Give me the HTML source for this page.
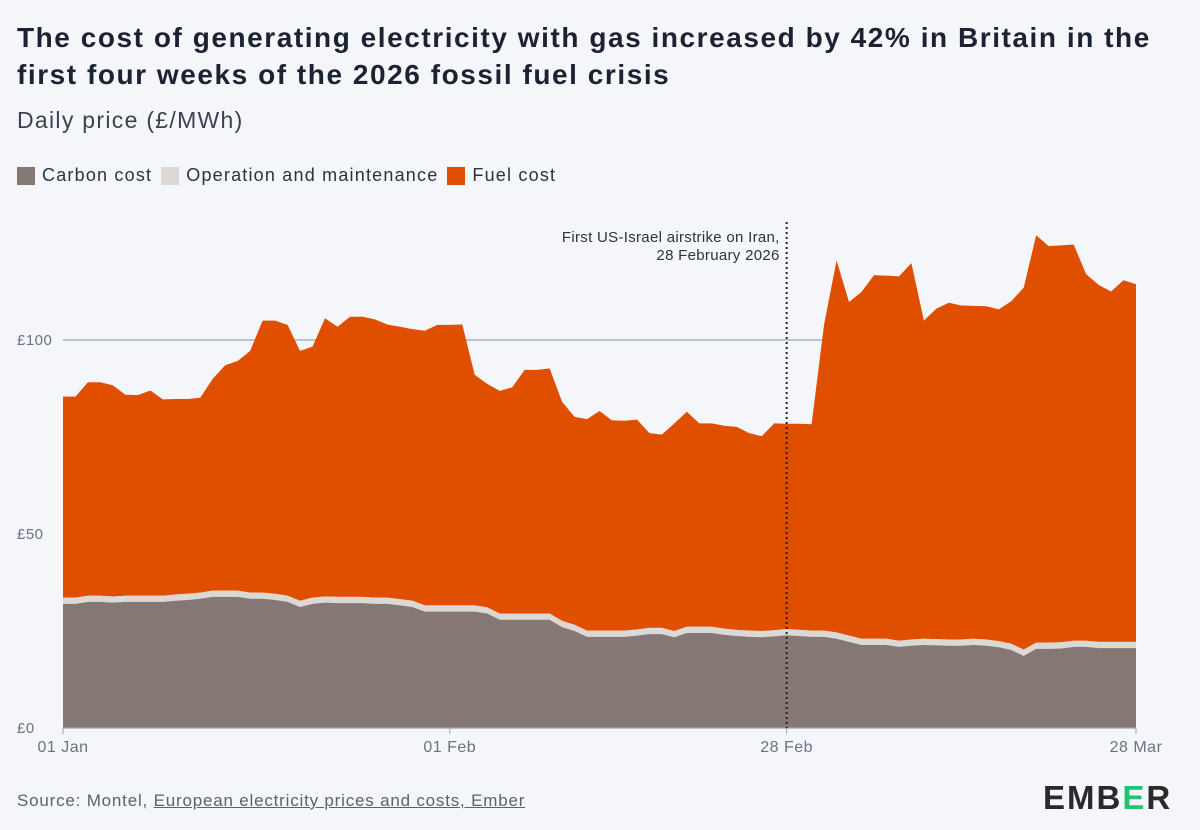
<!DOCTYPE html>
<html><head><meta charset="utf-8"><style>
html,body{margin:0;padding:0;background:#f5f6f9;}
body{width:1200px;height:830px;position:relative;overflow:hidden;font-family:"Liberation Sans",sans-serif;color:#1b2333;}
.t{position:absolute;margin:0;white-space:nowrap;}
</style></head><body>
<h1 class="t" style="left:17px;top:19px;font-size:28px;line-height:37px;font-weight:bold;color:#1b2333;letter-spacing:1.55px;">The cost of generating electricity with gas increased by 42% in Britain in the<br>first four weeks of the 2026 fossil fuel crisis</h1>
<div class="t" style="left:17px;top:107px;font-size:23px;color:#3b4250;letter-spacing:1.3px;">Daily price (£/MWh)</div>
<div class="t" style="left:17px;top:165px;font-size:18px;color:#2b3240;display:flex;align-items:center;letter-spacing:1.2px;">
 <span style="display:flex;align-items:center;margin-right:9px;"><span style="width:18px;height:18px;background:#857874;display:inline-block;margin-right:7px;"></span>Carbon cost</span>
 <span style="display:flex;align-items:center;margin-right:9px;"><span style="width:18px;height:18px;background:#dcd8d6;display:inline-block;margin-right:7px;"></span>Operation and maintenance</span>
 <span style="display:flex;align-items:center;"><span style="width:18px;height:18px;background:#e04e00;display:inline-block;margin-right:7px;"></span>Fuel cost</span>
</div>
<svg id="chart" width="1200" height="830" style="position:absolute;left:0;top:0;" xmlns="http://www.w3.org/2000/svg"></svg>
<div class="t" style="left:17px;top:791px;font-size:17px;color:#5a6170;letter-spacing:0.8px;">Source: Montel, <span style="text-decoration:underline;">European electricity prices and costs, Ember</span></div>
<div class="t" style="left:1043px;top:779px;font-size:33px;font-weight:bold;letter-spacing:2px;color:#2a2a2c;">EMB<span style="color:#1ec472;">E</span>R</div>
<script>
const dayLabels = ["01 Jan","01 Feb","28 Feb","28 Mar"];
const dayLabelIdx = [0,31,58,86];
const yTicks = [0,50,100];
const yTickLabels = ["£0","£50","£100"];
const carbonCost = [32,32,32.5,32.5,32.3,32.5,32.5,32.5,32.5,32.8,33,33.3,
33.8,33.8,33.8,33.3,33.3,33,32.5,
31.2,32,32.3,32.2,32.2,32.2,32,32,31.6,31.2,30,
30,30,30,30,29.5,27.9,27.9,27.9,27.9,27.9,
26,25,23.5,23.5,23.5,23.5,23.8,24.2,24.2,23.4,
24.5,24.5,24.5,24,23.7,23.5,23.4,23.6,23.9,23.7,
23.5,23.5,23,22.2,21.4,21.4,21.4,20.9,21.2,21.4,
21.3,21.2,21.2,21.4,21.2,20.8,20.1,18.6,20.4,20.4,
20.5,20.9,20.9,20.6,20.6,20.6,20.6];
const omCost = new Array(87).fill(1.6);
const totalCost = [85.4,85.4,89.1,89.1,88.3,85.9,85.8,87,84.7,84.8,
84.8,85.1,90,93.5,94.6,97.2,105,105,103.9,97.2,
98.3,105.6,103.4,106,106,105.3,104,103.4,102.8,102.4,
103.9,103.9,104,91,88.7,86.9,87.8,92.3,92.3,92.7,
84.1,80.2,79.6,81.7,79.3,79.2,79.5,76,75.6,78.5,
81.5,78.5,78.5,77.9,77.6,76,75.2,78.5,78.4,78.4,
78.3,104,120.5,109.8,112.4,116.7,116.6,116.4,119.8,105,
108.1,109.6,108.9,108.8,108.7,107.9,110,113.5,127,124.2,
124.4,124.6,117,114.2,112.5,115.4,114.4];
const eventIdx = 58;

const svg = document.getElementById('chart');
const NS = 'http://www.w3.org/2000/svg';
const X0=63, X1=1136, Y0=728, YPER=3.88;
const N = totalCost.length;
const xs = i => X0 + (X1-X0)*i/(N-1);
const ys = v => Y0 - v*YPER;
function mk(tag, attrs){const e=document.createElementNS(NS,tag);for(const k in attrs)e.setAttribute(k,attrs[k]);svg.appendChild(e);return e;}

yTicks.forEach((t,i)=>{
  if(t>0){const g=mk('line',{x1:X0,x2:X1,y1:ys(t),y2:ys(t),stroke:'#9aa3b5','stroke-width':1.2});
  
  }
  const tx=mk('text',{x:17,y:ys(t)+5,'font-size':15,fill:'#6b7282','letter-spacing':'0.5','font-family':'Liberation Sans, sans-serif'});
  tx.textContent=yTickLabels[i];
  
  
});

const low = carbonCost.map(()=>0);
const c1 = carbonCost.slice();
const c2 = carbonCost.map((c,i)=>c+omCost[i]);
function area(lo, hi, color, name){
  let d='M'+xs(0)+','+ys(hi[0]);
  for(let i=1;i<N;i++) d+='L'+xs(i)+','+ys(hi[i]);
  for(let i=N-1;i>=0;i--) d+='L'+xs(i)+','+ys(lo[i]);
  const p=mk('path',{d:d+'Z',fill:color});
  
  
}
area(c2, totalCost, '#e04e00', 'fuel-cost-area');
area(c1, c2, '#dcd8d6', 'om-cost-area');
area(low, c1, '#857874', 'carbon-cost-area');

const bl=mk('line',{x1:X0,x2:X1,y1:Y0,y2:Y0,stroke:'#9aa3b5','stroke-width':1.2});



dayLabelIdx.forEach((d,i)=>{
  const tk=mk('line',{x1:xs(d),x2:xs(d),y1:Y0,y2:Y0+6,stroke:'#9aa3b5','stroke-width':1});
  
  
  const tx=mk('text',{x:xs(d),y:752,'font-size':16,fill:'#6b7282','text-anchor':'middle','letter-spacing':'0.5','font-family':'Liberation Sans, sans-serif'});
  tx.textContent=dayLabels[i];
  
  
});

const ev=mk('line',{x1:xs(eventIdx),x2:xs(eventIdx),y1:222,y2:Y0,stroke:'#222','stroke-width':2,'stroke-dasharray':'2,3'});


['First US-Israel airstrike on Iran,','28 February 2026'].forEach((s,i)=>{
  const tx=mk('text',{x:xs(eventIdx)-7,y:242+i*18,'font-size':15,fill:'#2b3240','text-anchor':'end','letter-spacing':'0.3','font-family':'Liberation Sans, sans-serif'});
  tx.textContent=s;
  
  
});
</script>
</body></html>
